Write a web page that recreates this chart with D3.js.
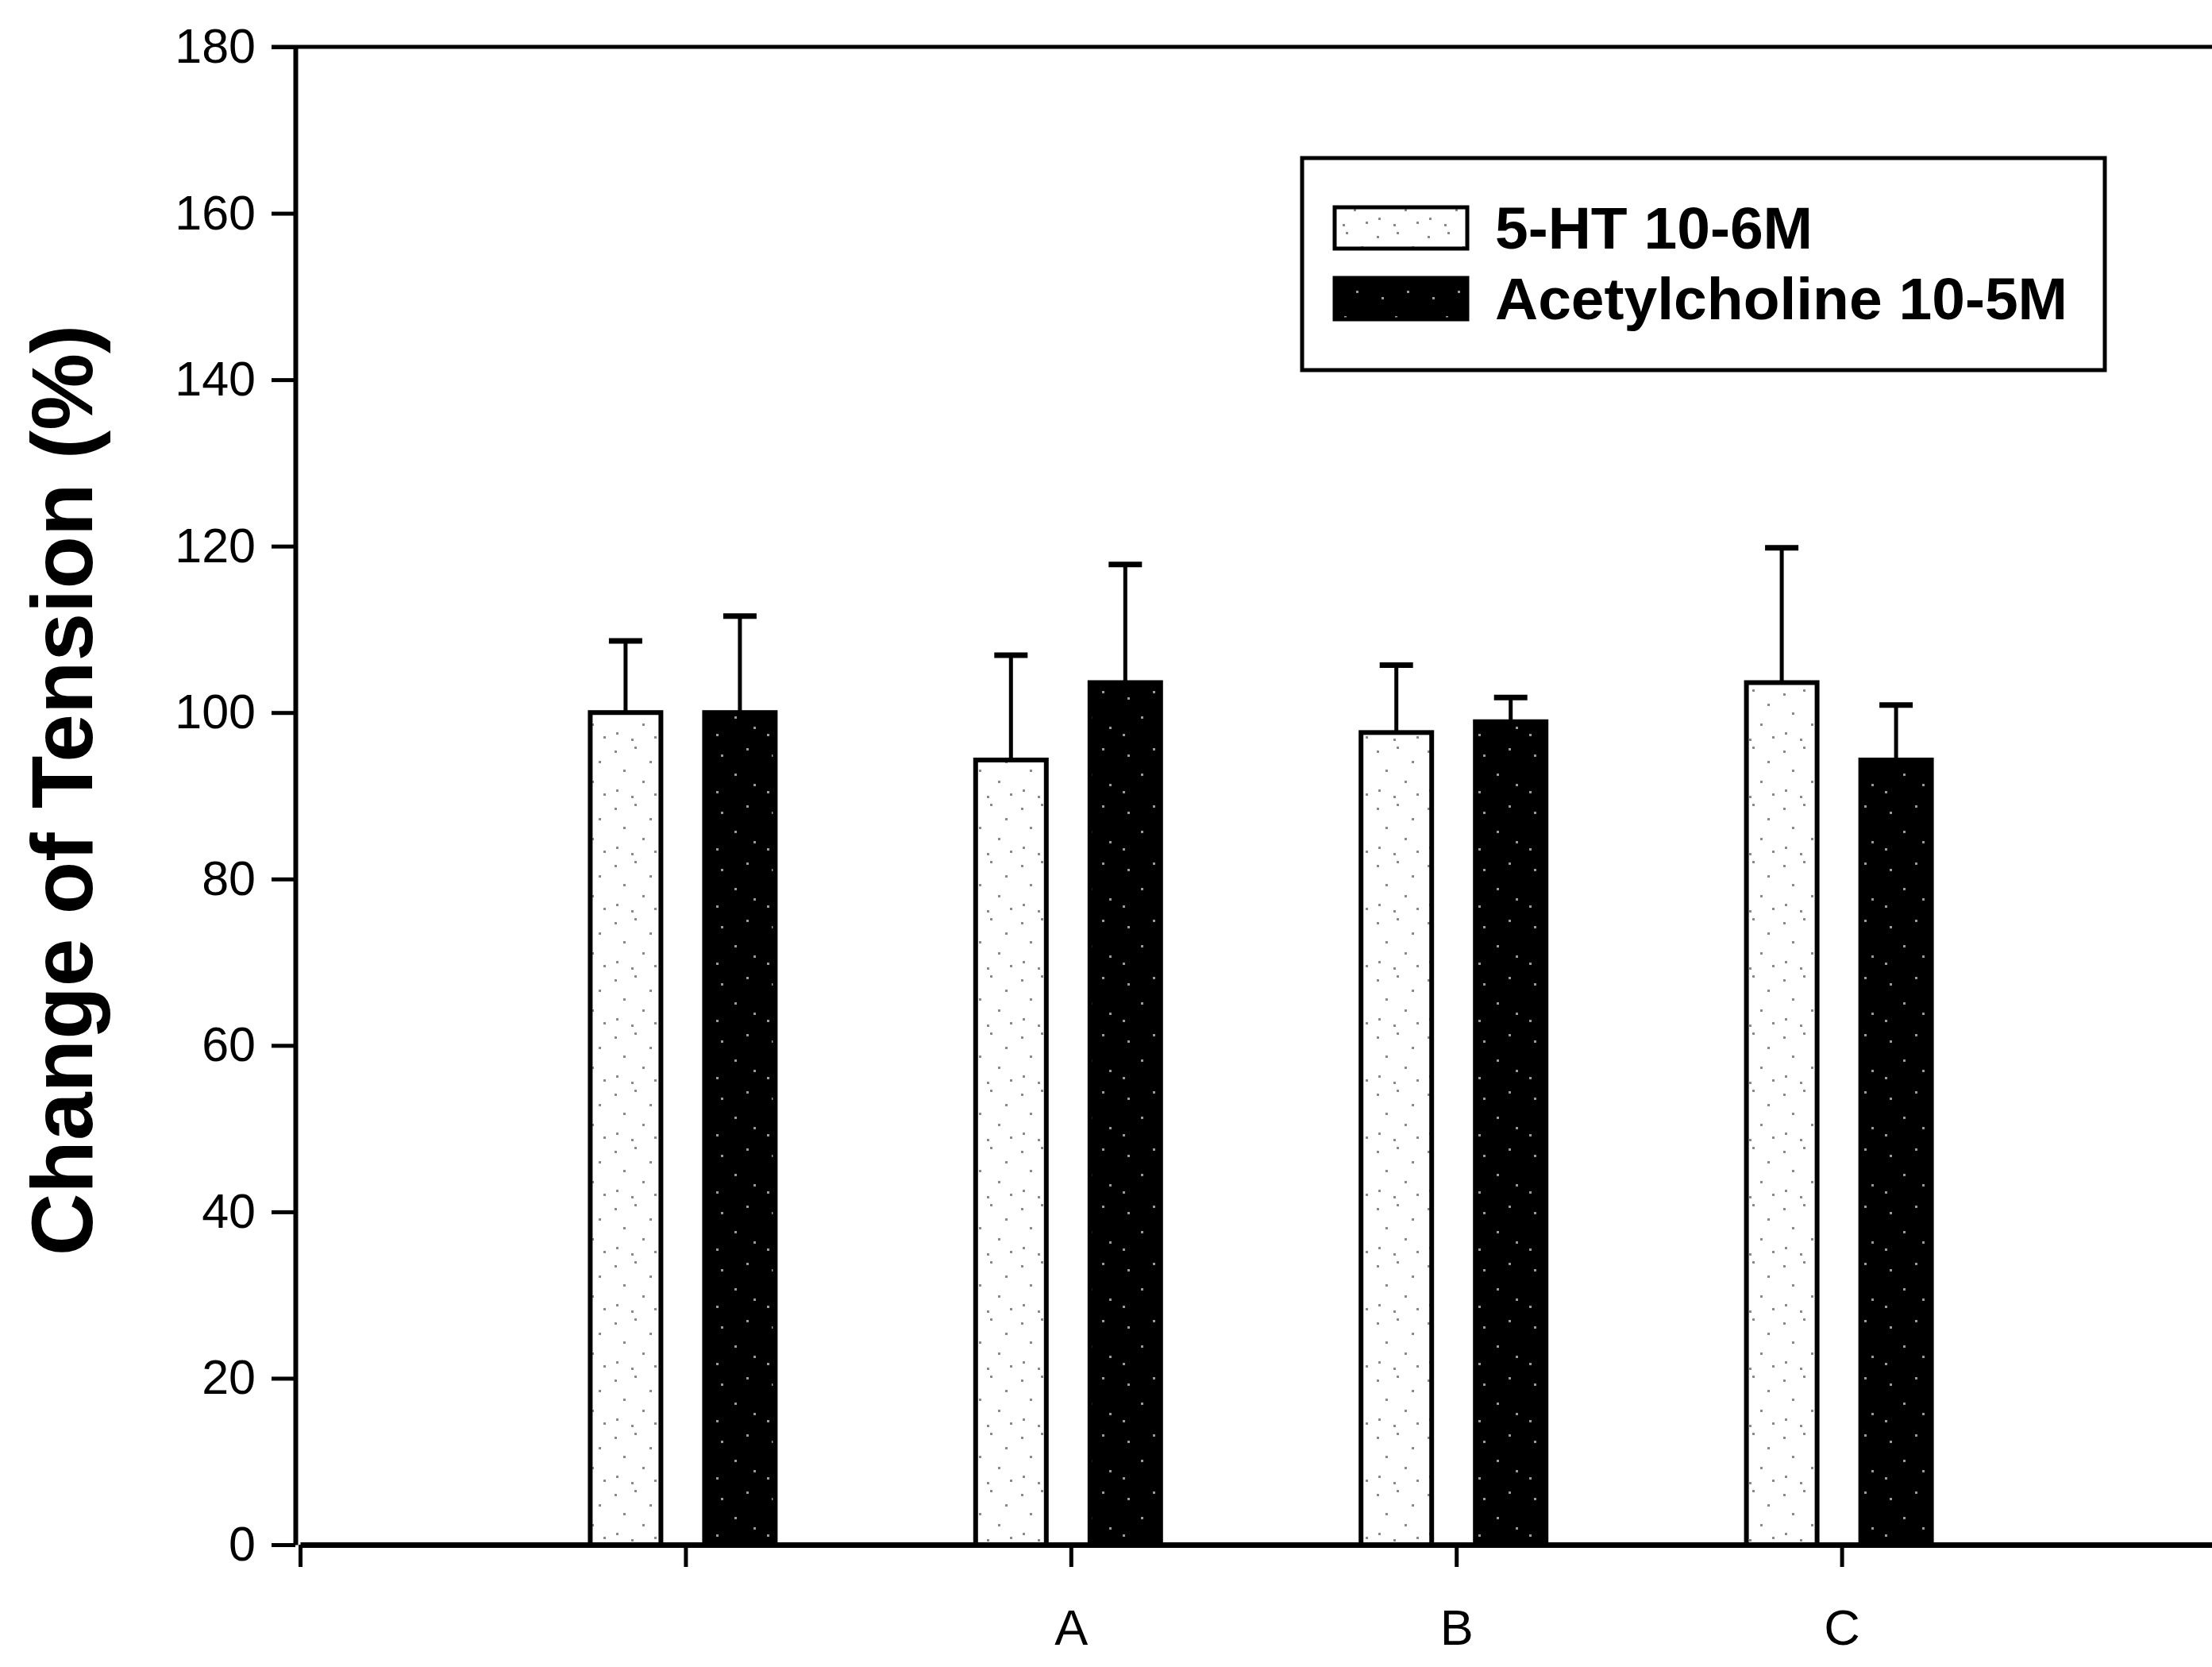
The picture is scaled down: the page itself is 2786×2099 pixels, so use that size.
<!DOCTYPE html>
<html>
<head>
<meta charset="utf-8">
<script src="https://cdn.jsdelivr.net/npm/d3@7/dist/d3.min.js"></script>
<style>
  html, body { margin: 0; padding: 0; background: #fff; }
  svg { display: block; }
  text { font-family: "Liberation Sans", Arial, sans-serif; fill: #000; }
</style>
</head>
<body>
<svg id="chart" width="2786" height="2099"></svg>
<script>
// Group labels at positions 1..4 on the x axis (first group is unlabeled)
const categories = ["", "A", "B", "C"];
const seriesNames = ["5-HT 10-6M", "Acetylcholine 10-5M"];
// Mean change of tension (%) and upper SEM for each series
const serotonin = [100, 94.3, 97.6, 103.6];
const serotoninErr = [8.6, 12.6, 8.1, 16.2];
const acetylcholine = [100, 103.6, 98.9, 94.3];
const acetylcholineErr = [11.6, 14.2, 2.9, 6.6];
const yTicks = [0, 20, 40, 60, 80, 100, 120, 140, 160, 180];
const xTickLabels = ["", "", "A", "B", "C"];

const svg = d3.select("#chart");
const W = 2786, H = 2099;

const y = d3.scaleLinear().domain([0, 180]).range([1945, 59]);
const x = d3.scaleLinear().domain([0, 5]).range([378, 2805]);

// Two bars per group, placed around the group tick
const inner = d3.scaleBand().domain(seriesNames).range([-120, 113]).paddingInner(0.382);

// Stippled fills for the two series
const defs = svg.append("defs");
const dotsLight = defs.append("pattern").attr("id", "stippleLight")
  .attr("patternUnits", "userSpaceOnUse").attr("width", 64).attr("height", 72);
dotsLight.append("rect").attr("width", 64).attr("height", 72).attr("fill", "#fff");
[[6, 9], [31, 4], [50, 22], [17, 33], [41, 47], [8, 58], [56, 63], [27, 66]].forEach(([px, py]) =>
  dotsLight.append("rect").attr("x", px).attr("y", py).attr("width", 3).attr("height", 3).attr("fill", "#8a8a8a"));
const dotsDark = defs.append("pattern").attr("id", "stippleDark")
  .attr("patternUnits", "userSpaceOnUse").attr("width", 64).attr("height", 72);
dotsDark.append("rect").attr("width", 64).attr("height", 72).attr("fill", "#000");
[[12, 14], [44, 6], [29, 38], [53, 51], [6, 60]].forEach(([px, py]) =>
  dotsDark.append("rect").attr("x", px).attr("y", py).attr("width", 3).attr("height", 3).attr("fill", "#9a9a9a"));

const fills = { "5-HT 10-6M": "url(#stippleLight)", "Acetylcholine 10-5M": "url(#stippleDark)" };

const rows = categories.map((c, i) => ({
  pos: i + 1,
  label: c,
  values: [
    { series: seriesNames[0], v: serotonin[i], e: serotoninErr[i] },
    { series: seriesNames[1], v: acetylcholine[i], e: acetylcholineErr[i] }
  ]
}));

// Top frame line
svg.append("line")
  .attr("x1", x(0) - 36).attr("x2", W)
  .attr("y1", y(180)).attr("y2", y(180))
  .attr("stroke", "#000").attr("stroke-width", 5);

// Error bars (upper only), drawn first so bars sit over the stem base
const g = svg.append("g");
rows.forEach(r => {
  r.values.forEach(d => {
    const cx = x(r.pos) + inner(d.series) + inner.bandwidth() / 2;
    g.append("line")
      .attr("x1", cx).attr("x2", cx)
      .attr("y1", y(d.v)).attr("y2", y(d.v + d.e))
      .attr("stroke", "#000").attr("stroke-width", 5);
    g.append("line")
      .attr("x1", cx - 21).attr("x2", cx + 21)
      .attr("y1", y(d.v + d.e)).attr("y2", y(d.v + d.e))
      .attr("stroke", "#000").attr("stroke-width", 7);
  });
});

// Bars
rows.forEach(r => {
  g.selectAll(null)
    .data(r.values)
    .enter().append("rect")
    .attr("x", d => x(r.pos) + inner(d.series))
    .attr("width", inner.bandwidth())
    .attr("y", d => y(d.v))
    .attr("height", d => y(0) - y(d.v))
    .attr("fill", d => fills[d.series])
    .attr("stroke", "#000").attr("stroke-width", 6);
});

// Y axis
const yAxis = svg.append("g")
  .attr("transform", `translate(${x(0) - 6},0)`)
  .call(d3.axisLeft(y).tickValues(yTicks).tickSize(30).tickPadding(20).tickSizeOuter(0));
yAxis.select(".domain").attr("stroke-width", 6);
yAxis.selectAll(".tick line").attr("stroke-width", 5);
yAxis.selectAll(".tick text").attr("font-size", 61).attr("font-family", "Liberation Sans, Arial, sans-serif");

// X axis
const xAxis = svg.append("g")
  .attr("transform", `translate(0,${y(0)})`)
  .call(d3.axisBottom(x).tickValues([0, 1, 2, 3, 4]).tickFormat((d, i) => xTickLabels[i])
    .tickSize(28).tickPadding(53).tickSizeOuter(0));
xAxis.select(".domain").attr("stroke-width", 7);
xAxis.selectAll(".tick line").attr("stroke-width", 5);
xAxis.selectAll(".tick text").attr("font-size", 63).attr("font-family", "Liberation Sans, Arial, sans-serif");

// Y axis title
svg.append("text")
  .attr("transform", `translate(116,995) rotate(-90)`)
  .attr("text-anchor", "middle")
  .attr("font-size", 109).attr("font-weight", "bold")
  .text("Change of Tension (%)");

// Legend
const lg = svg.append("g");
lg.append("rect")
  .attr("x", 1640).attr("y", 199).attr("width", 1011).attr("height", 267)
  .attr("fill", "#fff").attr("stroke", "#000").attr("stroke-width", 5);
seriesNames.forEach((s, i) => {
  const yy = 261 + i * 89;
  lg.append("rect")
    .attr("x", 1681).attr("y", yy).attr("width", 167).attr("height", 52)
    .attr("fill", fills[s]).attr("stroke", "#000").attr("stroke-width", 5);
  lg.append("text")
    .attr("x", 1883).attr("y", yy + 52)
    .attr("font-size", 75).attr("font-weight", "bold")
    .text(s);
});
</script>
</body>
</html>
